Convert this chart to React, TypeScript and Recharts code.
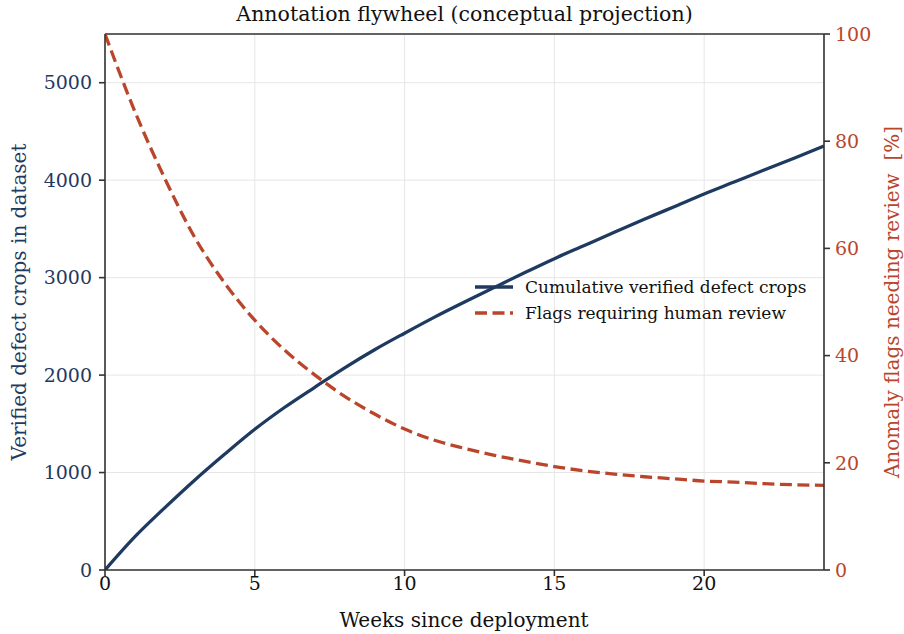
import { LineChart, Line, XAxis, YAxis, CartesianGrid, ReferenceLine, Label } from "recharts";

const weeks = [0, 1, 2, 3, 4, 5, 6, 7, 8, 9, 10, 11, 12, 13, 14, 15, 16, 17, 18, 19, 20, 21, 22, 23, 24];
const verifiedCrops = [
  0, 342, 640, 924, 1190, 1444, 1670, 1875, 2075, 2260, 2430, 2595, 2750, 2900, 3050, 3195, 3330, 3465,
  3598, 3728, 3858, 3981, 4105, 4225, 4351,
];
const reviewFlags = [
  100, 85.5, 73, 62, 53.5, 46.6, 41, 36.4, 32.4, 29.1, 26.3, 24.2, 22.7, 21.4, 20.3, 19.3, 18.5, 17.9, 17.4,
  17.0, 16.6, 16.4, 16.1, 15.9, 15.8,
];
const weekTicks = [0, 5, 10, 15, 20];
const cropTicks = [0, 1000, 2000, 3000, 4000, 5000];
const flagTicks = [0, 20, 40, 60, 80, 100];

const BLUE = "#1f3a60";
const RED = "#b9462b";
const AXIS = "#333333";
const FONT = "'DejaVu Serif', serif";

const data = weeks.map((w, i) => ({ week: w, crops: verifiedCrops[i], flags: reviewFlags[i] }));

export default function App() {
  return (
    <div style={{ position: "absolute", left: 0, top: 0, width: 904, height: 634, background: "#fff", fontFamily: FONT }}>
      <div
        style={{
          position: "absolute",
          left: 105,
          width: 719,
          top: 2,
          textAlign: "center",
          fontSize: 20.5,
          color: "#111",
        }}
      >
        Annotation flywheel (conceptual projection)
      </div>
      <LineChart width={904} height={634} data={data} margin={{ top: 34, right: 0, bottom: 0, left: 0 }}>
        <CartesianGrid yAxisId="left" stroke="#e6e6e6" strokeWidth={1} ticks={cropTicks} />
        <XAxis
          dataKey="week"
          type="number"
          domain={[0, 24]}
          ticks={weekTicks}
          allowDataOverflow
          stroke={AXIS}
          strokeWidth={1.6}
          tickSize={6}
          tick={{ fill: "#111", fontSize: 19, fontFamily: FONT, dy: -1 }}
          height={64}
        >
          <Label
            content={() => (
              <text x={464} y={627} textAnchor="middle" fontSize={20} fill="#111" fontFamily={FONT}>
                Weeks since deployment
              </text>
            )}
          />
        </XAxis>
        <YAxis
          yAxisId="left"
          type="number"
          domain={[0, 5500]}
          ticks={cropTicks}
          allowDataOverflow
          width={105}
          stroke={AXIS}
          strokeWidth={1.6}
          tickSize={6}
          tick={{ fill: BLUE, fontSize: 19, fontFamily: FONT, dx: -5 }}
        >
          <Label
            content={() => (
              <text
                x={26}
                y={302}
                transform="rotate(-90 26 302)"
                textAnchor="middle"
                fontSize={20}
                fill={BLUE}
                fontFamily={FONT}
              >
                Verified defect crops in dataset
              </text>
            )}
          />
        </YAxis>
        <YAxis
          yAxisId="right"
          orientation="right"
          type="number"
          domain={[0, 100]}
          ticks={flagTicks}
          allowDataOverflow
          width={80}
          stroke={AXIS}
          strokeWidth={1.6}
          tickSize={6}
          tick={{ fill: RED, fontSize: 19, fontFamily: FONT, dx: 3 }}
        >
          <Label
            content={() => (
              <text
                x={899}
                y={302}
                transform="rotate(-90 899 302)"
                textAnchor="middle"
                fontSize={20}
                fill={RED}
                fontFamily={FONT}
                style={{ whiteSpace: "pre" }}
              >
                {"Anomaly flags needing review  [%]"}
              </text>
            )}
          />
        </YAxis>
        <ReferenceLine yAxisId="left" y={5500} stroke={AXIS} strokeWidth={1.6} />
        <Line
          yAxisId="left"
          type="monotone"
          dataKey="crops"
          stroke={BLUE}
          strokeWidth={3.3}
          dot={false}
          isAnimationActive={false}
        />
        <Line
          yAxisId="right"
          type="monotone"
          dataKey="flags"
          stroke={RED}
          strokeWidth={3.3}
          strokeDasharray="12 5.5"
          dot={false}
          isAnimationActive={false}
        />
      </LineChart>
      <div style={{ position: "absolute", left: 475, top: 274, fontSize: 17, color: "#111", lineHeight: "26px" }}>
        <div style={{ display: "flex", alignItems: "center" }}>
          <svg width={38} height={6} style={{ marginRight: 12 }}>
            <line x1={0} y1={3} x2={38} y2={3} stroke={BLUE} strokeWidth={3.3} />
          </svg>
          Cumulative verified defect crops
        </div>
        <div style={{ display: "flex", alignItems: "center" }}>
          <svg width={38} height={6} style={{ marginRight: 12 }}>
            <line x1={0} y1={3} x2={38} y2={3} stroke={RED} strokeWidth={3.3} strokeDasharray="12 5.5" />
          </svg>
          Flags requiring human review
        </div>
      </div>
    </div>
  );
}
